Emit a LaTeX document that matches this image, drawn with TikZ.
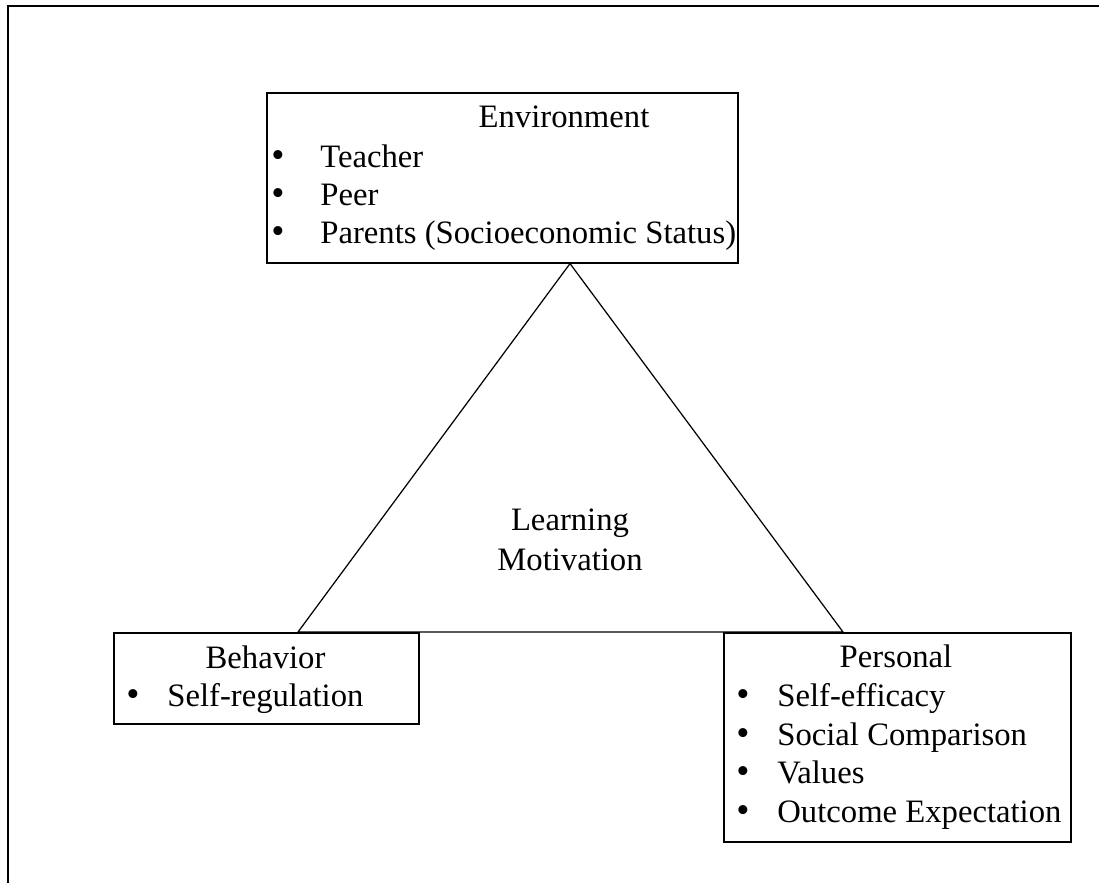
\documentclass[tikz,border=0pt]{standalone}
\usepackage{fontspec}
\setmainfont{Liberation Serif}
\usepackage{tikz}

\begin{document}
\begin{tikzpicture}[
  font=\fontsize{18.6}{22.8}\selectfont,
  frame/.style={line width=1.2pt},
  box/.style={draw, line width=0.9pt, inner sep=0pt, anchor=north west},
  head/.style={anchor=base, inner sep=0pt},
  dot/.style={anchor=base, inner sep=0pt, scale=1.15},
  item/.style={anchor=base west, inner sep=0pt},
  tri/.style={line width=0.7pt, line join=miter}
]
  \useasboundingbox (0,0) rectangle (21.98,-17.66);
  % open frame round the figure
  \draw[frame] (0.16,-17.66) -- (0.16,-0.12) -- (21.98,-0.12);

  % environment
  \node[box, minimum width=9.42cm, minimum height=3.40cm] (env) at (5.32,-1.84) {};
  \node[head] (envT) at (11.28,-2.54) {Environment};
  \node[dot] (envB1) at (5.56,-3.34) {\textbullet};
  \node[item] (envI1) at (6.40,-3.34) {Teacher};
  \node[dot] (envB2) at (5.56,-4.10) {\textbullet};
  \node[item] (envI2) at (6.40,-4.10) {Peer};
  \node[dot] (envB3) at (5.56,-4.86) {\textbullet};
  \node[item] (envI3) at (6.40,-4.86) {Parents (Socioeconomic Status)};

  % behavior
  \node[box, minimum width=6.10cm, minimum height=1.82cm] (beh) at (2.26,-12.64) {};
  \node[head] (behT) at (5.31,-13.36) {Behavior};
  \node[dot] (behB1) at (2.66,-14.12) {\textbullet};
  \node[item] (behI1) at (3.34,-14.12) {Self-regulation};

  % personal
  \node[box, minimum width=6.94cm, minimum height=4.18cm] (per) at (14.46,-12.64) {};
  \node[head] (perT) at (17.92,-13.34) {Personal};
  \node[dot] (perB1) at (14.86,-14.12) {\textbullet};
  \node[item] (perI1) at (15.54,-14.12) {Self-efficacy};
  \node[dot] (perB2) at (14.86,-14.90) {\textbullet};
  \node[item] (perI2) at (15.54,-14.90) {Social Comparison};
  \node[dot] (perB3) at (14.86,-15.66) {\textbullet};
  \node[item] (perI3) at (15.54,-15.66) {Values};
  \node[dot] (perB4) at (14.86,-16.44) {\textbullet};
  \node[item] (perI4) at (15.54,-16.44) {Outcome Expectation};

  % centre
  \node[head] (lm1) at (11.40,-10.60) {Learning};
  \node[head] (lm2) at (11.40,-11.40) {Motivation};

  % triangle
  \coordinate (apex) at (env.south -| lm1);
  \coordinate (lft) at (5.96,-12.64);
  \coordinate (rgt) at (16.86,-12.64);
  \draw[tri] (lft) -- (apex) -- (rgt) -- cycle;
\end{tikzpicture}
\end{document}
